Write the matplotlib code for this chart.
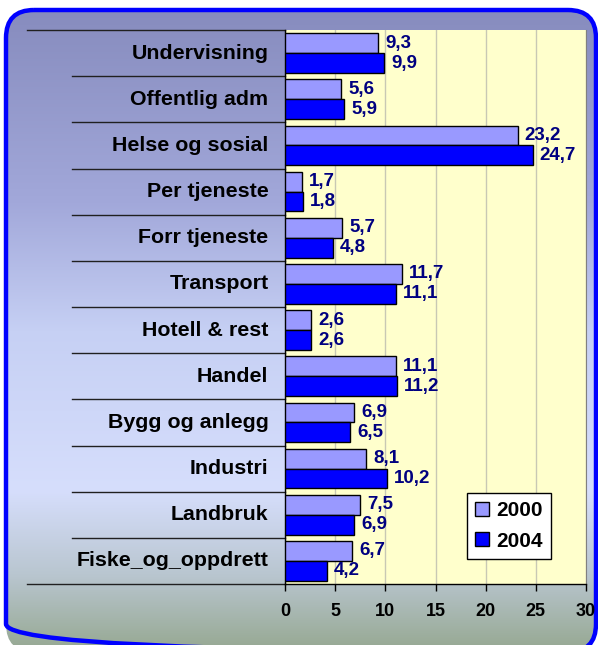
import numpy as np
import matplotlib
matplotlib.use('Agg')
import matplotlib.pyplot as plt
from matplotlib.patches import FancyBboxPatch
from matplotlib.lines import Line2D
import matplotlib.transforms as mtransforms

# Data (top to bottom)
categories = ['Undervisning', 'Offentlig adm', 'Helse og sosial', 'Per tjeneste',
              'Forr tjeneste', 'Transport', 'Hotell & rest', 'Handel',
              'Bygg og anlegg', 'Industri', 'Landbruk', 'Fiske_og_oppdrett']
values_2000 = [9.3, 5.6, 23.2, 1.7, 5.7, 11.7, 2.6, 11.1, 6.9, 8.1, 7.5, 6.7]
values_2004 = [9.9, 5.9, 24.7, 1.8, 4.8, 11.1, 2.6, 11.2, 6.5, 10.2, 6.9, 4.2]
xticks = [0, 5, 10, 15, 20, 25, 30]

plt.rcParams['font.family'] = ['Liberation Sans', 'DejaVu Sans']
plt.rcParams['font.weight'] = 'bold'

W, H = 598, 645
fig = plt.figure(figsize=(W / 100, H / 100), dpi=100)
fig.patch.set_facecolor('white')

# background panel with gradient and rounded blue frame
bg = fig.add_axes([0, 0, 1, 1])
bg.set_xlim(0, W)
bg.set_ylim(H, 0)
bg.axis('off')
stops = [0.0, 0.3, 0.5, 0.75, 0.88, 1.0]
cols = np.array([[135, 140, 190], [162, 168, 218], [198, 208, 244],
                 [214, 222, 252], [185, 198, 208], [150, 168, 145]]) / 255.0
yy = np.linspace(0, 1, 300)
grad = np.stack([np.interp(yy, stops, cols[:, c]) for c in range(3)], axis=1)
grad = np.repeat(grad[:, None, :], 2, axis=1)
img = bg.imshow(grad, extent=[6, 596, 652, 10], aspect='auto', zorder=0)
frame = FancyBboxPatch((6, 10), 590, 642, boxstyle='round,pad=0,rounding_size=28',
                       facecolor='none', edgecolor='#0000ff', linewidth=3.2, zorder=2)
bg.add_patch(frame)
img.set_clip_path(frame)

# main chart
ax = fig.add_axes([285 / W, 1 - 584 / H, 301 / W, 554 / H])
ax.set_facecolor('#ffffcc')
y = np.arange(len(categories))
h = 0.43
b1 = ax.barh(y - h / 2, values_2000, height=h, color='#9999ff', edgecolor='black',
             linewidth=1, label='2000', zorder=3)
b2 = ax.barh(y + h / 2, values_2004, height=h, color='#0000ff', edgecolor='black',
             linewidth=1, label='2004', zorder=3)
for bars, vals in ((b1, values_2000), (b2, values_2004)):
    ax.bar_label(bars, labels=[f'{v:.1f}'.replace('.', ',') for v in vals],
                 padding=5, color='#000080', fontsize=13.5, fontweight='bold')

ax.set_xlim(0, 30)
ax.set_ylim(len(categories) - 0.5, -0.5)
ax.set_xticks(xticks)
ax.set_xticklabels([str(t) for t in xticks], fontsize=13, fontweight='bold')
ax.tick_params(axis='x', length=5, width=1, pad=9)
ax.set_yticks([])
ax.grid(axis='x', color='#c8c8b4', linewidth=1, zorder=1)
ax.set_axisbelow(True)
ax.spines['top'].set_visible(False)
ax.spines['right'].set_color('#808080')
ax.spines['left'].set_linewidth(1)
ax.spines['bottom'].set_linewidth(1)

# category labels and separator lines
trans = mtransforms.blended_transform_factory(ax.transAxes, ax.transData)
for i, c in enumerate(categories):
    ax.text(-0.055, i, c, transform=trans, ha='right', va='center',
            fontsize=15.4, fontweight='bold', color='black')
for i in range(len(categories) + 1):
    x0 = -0.857 if i in (0, len(categories)) else -0.708
    ax.add_line(Line2D([x0, 0], [i - 0.5, i - 0.5], transform=trans, color='#202020',
                       linewidth=1, clip_on=False))

leg = ax.legend(loc='lower right', bbox_to_anchor=(0.884, 0.045), borderaxespad=0,
                fontsize=15, frameon=True, fancybox=False, edgecolor='black',
                framealpha=1, handlelength=0.65, handleheight=0.65,
                handletextpad=0.35, labelspacing=0.55, borderpad=0.4)
leg.get_frame().set_linewidth(1)

plt.savefig('out.png', dpi=100)
